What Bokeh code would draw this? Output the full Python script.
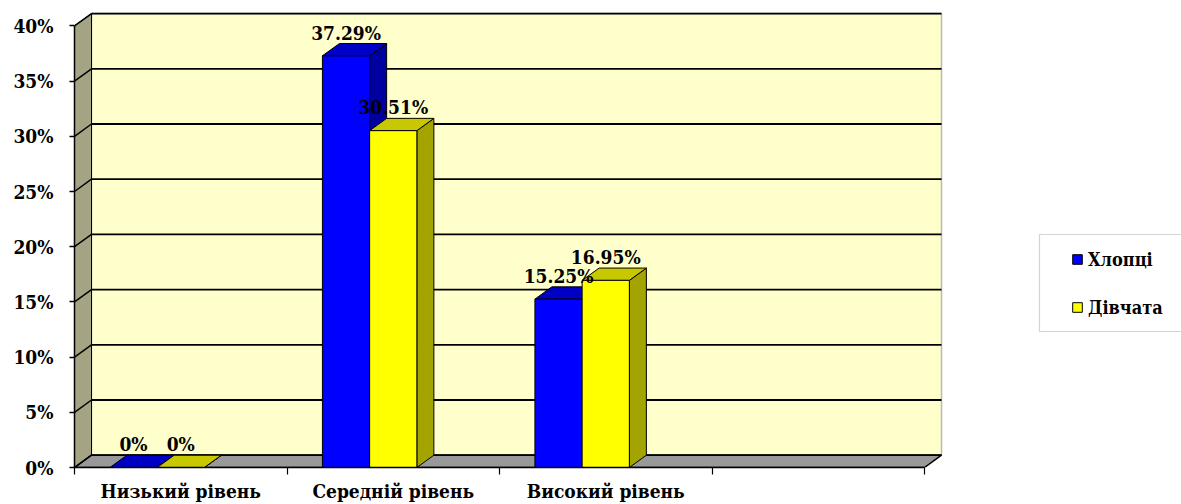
from bokeh.plotting import figure
from bokeh.models import (FixedTicker, PrintfTickFormatter, Range1d, Legend,
                          LegendItem, BoxAnnotation)
from bokeh.core.properties import value
from bokeh.embed import file_html
from bokeh.resources import INLINE

# ---------------- data ----------------
categories = ["Низький рівень", "Середній рівень", "Високий рівень", ""]
series_names = ["Хлопці", "Дівчата"]
boys = [0.0, 37.29, 15.25]
girls = [0.0, 30.51, 16.95]
y_ticks = [0, 5, 10, 15, 20, 25, 30, 35, 40]

# ---------------- styles ----------------
front_colors = ["#0000FF", "#FFFF00"]
top_colors = ["#0000C4", "#C8C800"]
side_colors = ["#0000A0", "#A4A400"]
WALL = "#FFFFCC"
SIDE_WALL = "#A4A484"
FLOOR = "#999999"
FONT = "DejaVu Serif Condensed"

W, H = 1181, 504
B_LEFT, B_BOTTOM = 74, 37
FRAME_W, FRAME_H = W - B_LEFT, H - B_BOTTOM
PX_X = 212.5        # pixels per category
PX_Y = 11.04        # pixels per percent
DX = 17.0 / PX_X    # depth offset (data units)
DY = 12.3 / PX_Y
N_CAT = len(categories)
Y_MAX = y_ticks[-1]

p = figure(width=W, height=H, output_backend="svg", toolbar_location=None,
           x_range=Range1d(0, FRAME_W / PX_X), y_range=Range1d(0, FRAME_H / PX_Y),
           min_border_left=B_LEFT, min_border_bottom=B_BOTTOM,
           min_border_top=0, min_border_right=0)
p.xgrid.visible = False
p.ygrid.visible = False
p.outline_line_color = None
p.background_fill_color = "white"
p.border_fill_color = "white"

# ---------------- walls / floor ----------------
p.quad(left=[DX], right=[N_CAT + DX], bottom=[DY], top=[Y_MAX + DY],
       fill_color=WALL, line_color="#B8B8B8", line_width=1.5)
p.patch([0, DX, DX, 0], [0, DY, Y_MAX + DY, Y_MAX], fill_color=SIDE_WALL,
        line_color="black", line_width=1)
p.patch([0, N_CAT, N_CAT + DX, DX], [0, 0, DY, DY], fill_color=FLOOR,
        line_color="black", line_width=1.5)

# gridlines on back wall and side wall
p.segment(x0=[DX] * len(y_ticks), y0=[t + DY for t in y_ticks],
          x1=[N_CAT + DX] * len(y_ticks), y1=[t + DY for t in y_ticks],
          line_color="black", line_width=1.8)
p.segment(x0=[0] * len(y_ticks), y0=y_ticks,
          x1=[DX] * len(y_ticks), y1=[t + DY for t in y_ticks],
          line_color="black", line_width=1.5)

# ---------------- 3D bars ----------------
n_slots = 3                     # clustered with an (empty) third slot
bw = 1.0 / (n_slots + 1.5)      # gap width 150%
renderers = []
for s, vals in enumerate([boys, girls]):
    x0 = [c + 0.75 * bw + s * bw for c in range(len(vals))]
    x1 = [a + bw for a in x0]
    side_xs = [[b, b + DX, b + DX, b] for b in x1]
    side_ys = [[0, DY, v + DY, v] for v in vals]
    p.patches(side_xs, side_ys, fill_color=side_colors[s], line_color="black", line_width=1)
    top_xs = [[a, b, b + DX, a + DX] for a, b in zip(x0, x1)]
    top_ys = [[v, v, v + DY, v + DY] for v in vals]
    p.patches(top_xs, top_ys, fill_color=top_colors[s], line_color="black", line_width=1)
    r = p.quad(left=x0, right=x1, bottom=[0] * len(vals), top=vals,
               fill_color=front_colors[s], line_color="black", line_width=1)
    renderers.append(r)

# data labels
for s, vals in enumerate([boys, girls]):
    xc = [c + 0.75 * bw + s * bw + bw / 2 for c in range(len(vals))]
    labels = ["0%" if v == 0 else f"{v:.2f}%" for v in vals]
    p.text(x=xc, y=[v + DY for v in vals], text=labels, text_align="center",
           text_baseline="alphabetic", y_offset=-11,
           text_font=value(FONT), text_font_style="bold", text_font_size="19px",
           text_color="black")

# ---------------- axes ----------------
ya = p.yaxis[0]
ya.ticker = FixedTicker(ticks=y_ticks)
ya.formatter = PrintfTickFormatter(format="%d%%")
ya.bounds = (0, Y_MAX)
ya.axis_line_color = "black"
ya.axis_line_width = 1.5
ya.major_tick_out = 5
ya.major_tick_in = 0
ya.major_tick_line_color = "black"
ya.major_tick_line_width = 1.5
ya.minor_tick_line_color = None
ya.major_label_standoff = 16
ya.major_label_text_font = FONT
ya.major_label_text_font_style = "bold"
ya.major_label_text_font_size = "19px"
ya.major_label_text_color = "black"

xa = p.xaxis[0]
centers = [c + 0.5 for c in range(N_CAT)]
xa.ticker = FixedTicker(ticks=centers, minor_ticks=list(range(N_CAT + 1)))
xa.major_label_overrides = {c: lab for c, lab in zip(centers, categories)}
xa.bounds = (0, N_CAT)
xa.axis_line_color = "black"
xa.axis_line_width = 1.5
xa.major_tick_out = 0
xa.major_tick_in = 0
xa.minor_tick_out = 7
xa.minor_tick_in = 0
xa.minor_tick_line_color = "black"
xa.minor_tick_line_width = 1.2
xa.major_label_standoff = 5
xa.major_label_text_font = FONT
xa.major_label_text_font_style = "bold"
xa.major_label_text_font_size = "19px"
xa.major_label_text_color = "black"

# ---------------- legend ----------------
box = BoxAnnotation(left=1039, right=1200, top=234, bottom=331,
                    left_units="canvas", right_units="canvas",
                    top_units="canvas", bottom_units="canvas",
                    fill_color="white", fill_alpha=1.0,
                    line_color="#707070", line_width=1.2, level="annotation")
p.add_layout(box)

legend = Legend(items=[LegendItem(label=series_names[i], renderers=[renderers[i]])
                       for i in range(2)],
                location=(997, 149), glyph_width=12, glyph_height=12,
                label_standoff=5, padding=0, margin=0, spacing=26, label_height=22,
                border_line_color=None, background_fill_alpha=0,
                label_text_font=FONT, label_text_font_style="bold",
                label_text_font_size="18px", label_text_color="black")
p.add_layout(legend)

open("out.html", "w").write(file_html(p, INLINE))
